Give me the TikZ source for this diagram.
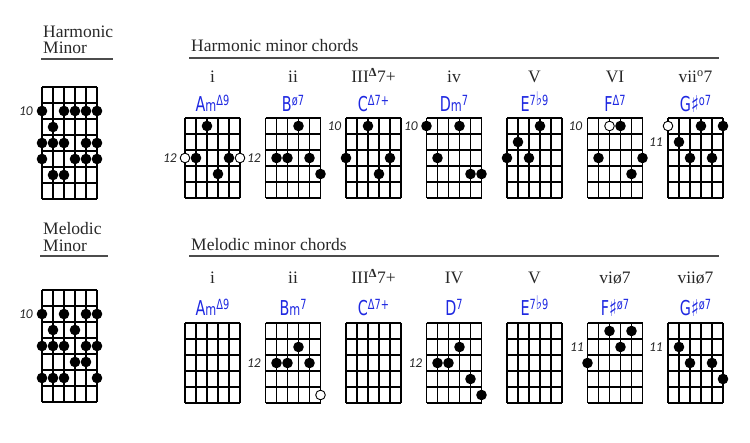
\documentclass[tikz,border=0pt]{standalone}
\usepackage{fontspec}
\setmainfont{Liberation Serif}
\newfontfamily\chordfont[FakeStretch=0.7]{DejaVu Sans}
\newfontfamily\fretfont{Carlito}
\definecolor{chordblue}{RGB}{30,40,225}
\definecolor{ink}{RGB}{40,40,40}
\newcommand\chordname[3]{{\chordfont\fontsize{20.5}{21}\selectfont #1{\fontsize{16}{16}\selectfont #2}\raisebox{6.5pt}{\fontsize{14}{14}\selectfont #3}}}
\newcommand\bigsharp{\raisebox{-1pt}{\scalebox{1.45}{♯}}}
\newcommand\bigflat{\scalebox{1.35}{♭}}
\newcommand\fretgrid[3]{%
  \foreach \k in {0,...,5} \draw[gridline] ({#1+11*\k},#2) -- ({#1+11*\k},{#2+16*#3});
  \foreach \k in {0,...,#3} \draw[gridline] (#1,{#2+16*\k}) -- ({#1+55},{#2+16*\k});
}
\newcommand\fdots[3]{\foreach \s/\r in {#3} \fill[black] ({#1+11*\s},{#2+16*\r-8}) circle (5.3pt);}
\newcommand\fopen[3]{\foreach \s/\r in {#3} \draw[opencirc] ({#1+11*\s},{#2+16*\r-8}) circle (4.8pt);}
\begin{document}
\begin{tikzpicture}[x=1pt,y=-1pt,
  gridline/.style={line width=1.2pt,black},
  opencirc/.style={line width=0.9pt,black,fill=white},
  head/.style={font=\fontsize{17.5}{20}\selectfont,text=ink,inner sep=0pt},
  roman/.style={font=\fontsize{17.5}{20}\selectfont,text=ink,inner sep=0pt,anchor=base},
  cname/.style={text=chordblue,inner sep=0pt,anchor=base},
  fretlbl/.style={font=\fretfont\itshape\fontsize{13.5}{13.5}\selectfont,text=ink,inner sep=0pt,anchor=east},
  rule/.style={line width=1.4pt,black!70}]
\useasboundingbox (0,0) rectangle (750,443);
% left headings
\node[head,anchor=base west] (hh1) at (43,38) {Harmonic};
\node[head,anchor=base west] (hh2) at (43,54) {Minor};
\draw[rule] (41,59) -- (113,59);
\node[head,anchor=base west] (mh1) at (43,235) {Melodic};
\node[head,anchor=base west] (mh2) at (43,252) {Minor};
\draw[rule] (40,256) -- (108,256);
% chord headings
\node[head,anchor=base west] (hc) at (191,52) {Harmonic minor chords};
\draw[rule] (189,58) -- (719,58);
\node[head,anchor=base west] (mc) at (191,251) {Melodic minor chords};
\draw[rule] (189,256) -- (719,256);
% scale charts
\fretgrid{42}{87}{7}
\fdots{42}{87}{0/2,2/2,3/2,4/2,5/2,1/3,0/4,1/4,2/4,4/4,5/4,0/5,3/5,4/5,5/5,1/6,2/6}
\node[fretlbl] (hsl) at (33,111) {10};
\fretgrid{42}{290}{7}
\fdots{42}{290}{0/2,2/2,4/2,5/2,1/3,3/3,0/4,1/4,2/4,4/4,5/4,3/5,4/5,0/6,1/6,2/6,5/6}
\node[fretlbl] (msl) at (33,314) {10};
% harmonic roman numerals
\node[roman] (hr1) at (212.5,83) {i};
\node[roman] (hr2) at (293,83) {ii};
\node[roman] (hr3) at (373.5,83) {III\textsuperscript{\bfseries Δ}7+};
\node[roman] (hr4) at (454,83) {iv};
\node[roman] (hr5) at (534.5,83) {V};
\node[roman] (hr6) at (615,83) {VI};
\node[roman] (hr7) at (695.5,83) {vii\textsuperscript{o}7};
% harmonic chord names
\node[cname] (hn1) at (212.5,112) {\chordname{A}{m}{Δ9}};
\node[cname] (hn2) at (293,112) {\chordname{B}{}{ø7}};
\node[cname] (hn3) at (373.5,112) {\chordname{C}{}{Δ7+}};
\node[cname] (hn4) at (454,112) {\chordname{D}{m}{7}};
\node[cname] (hn5) at (534.5,112) {\chordname{E}{}{7\bigflat9}};
\node[cname] (hn6) at (615,112) {\chordname{F}{}{Δ7}};
\node[cname] (hn7) at (695.5,112) {\chordname{G}{\bigsharp}{o7}};
% harmonic charts
\fretgrid{185}{118}{5}
\fopen{185}{118}{0/3,5/3}
\fdots{185}{118}{2/1,1/3,4/3,3/4}
\node[fretlbl] (hl1) at (177,158) {12};
\fretgrid{265.5}{118}{5}
\fdots{265.5}{118}{3/1,1/3,2/3,4/3,5/4}
\node[fretlbl] (hl2) at (261,158) {12};
\fretgrid{346}{118}{5}
\fdots{346}{118}{2/1,0/3,4/3,3/4}
\node[fretlbl] (hl3) at (341.5,126) {10};
\fretgrid{426.5}{118}{5}
\fdots{426.5}{118}{0/1,3/1,1/3,4/4,5/4}
\node[fretlbl] (hl4) at (418,126) {10};
\fretgrid{507}{118}{5}
\fdots{507}{118}{3/1,1/2,0/3,2/3}
\fretgrid{587.5}{118}{5}
\fopen{587.5}{118}{2/1}
\fdots{587.5}{118}{3/1,1/3,5/3,4/4}
\node[fretlbl] (hl6) at (582.5,126) {10};
\fretgrid{668}{118}{5}
\fopen{668}{118}{0/1}
\fdots{668}{118}{3/1,5/1,1/2,2/3,4/3}
\node[fretlbl] (hl7) at (663,142) {11};
% melodic roman numerals
\node[roman] (mr1) at (212.5,284) {i};
\node[roman] (mr2) at (293,284) {ii};
\node[roman] (mr3) at (373.5,284) {III\textsuperscript{\bfseries Δ}7+};
\node[roman] (mr4) at (454,284) {IV};
\node[roman] (mr5) at (534.5,284) {V};
\node[roman] (mr6) at (615,284) {viø7};
\node[roman] (mr7) at (695.5,284) {viiø7};
% melodic chord names
\node[cname] (mn1) at (212.5,316) {\chordname{A}{m}{Δ9}};
\node[cname] (mn2) at (293,316) {\chordname{B}{m}{7}};
\node[cname] (mn3) at (373.5,316) {\chordname{C}{}{Δ7+}};
\node[cname] (mn4) at (454,316) {\chordname{D}{}{7}};
\node[cname] (mn5) at (534.5,316) {\chordname{E}{}{7\bigflat9}};
\node[cname] (mn6) at (615,316) {\chordname{F}{\bigsharp}{ø7}};
\node[cname] (mn7) at (695.5,316) {\chordname{G}{\bigsharp}{ø7}};
% melodic charts
\fretgrid{185}{323}{5}
\fretgrid{265.5}{323}{5}
\fdots{265.5}{323}{3/2,1/3,2/3,4/3}
\fopen{265.5}{323}{5/5}
\node[fretlbl] (ml2) at (261,363) {12};
\fretgrid{346}{323}{5}
\fretgrid{426.5}{323}{5}
\fdots{426.5}{323}{3/2,1/3,2/3,4/4,5/5}
\node[fretlbl] (ml4) at (422.5,363) {12};
\fretgrid{507}{323}{5}
\fretgrid{587.5}{323}{5}
\fdots{587.5}{323}{2/1,4/1,3/2,0/3}
\node[fretlbl] (ml6) at (584,347) {11};
\fretgrid{668}{323}{5}
\fdots{668}{323}{1/2,2/3,4/3,5/4}
\node[fretlbl] (ml7) at (663,347) {11};
\end{tikzpicture}
\end{document}
